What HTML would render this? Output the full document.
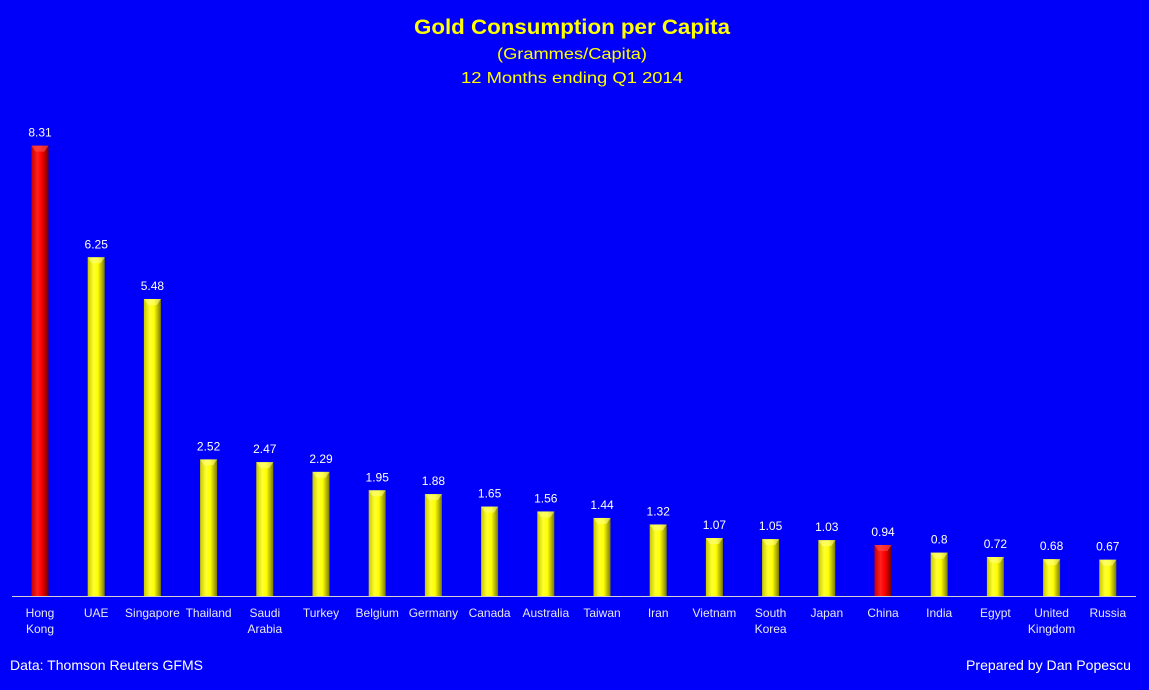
<!DOCTYPE html>
<html><head><meta charset="utf-8"><style>
html,body{margin:0;padding:0;background:#0000fa;}
svg{display:block;font-family:"Liberation Sans",sans-serif;}
</style></head><body>
<svg id="chart" width="1149" height="690" viewBox="0 0 1149 690">
<defs>
<linearGradient id="gy" x1="0" x2="1"><stop offset="0" stop-color="#c8c800"/><stop offset="0.35" stop-color="#ffff30"/><stop offset="0.6" stop-color="#ffff00"/><stop offset="1" stop-color="#7a7a00"/></linearGradient>
<linearGradient id="gr" x1="0" x2="1"><stop offset="0" stop-color="#c80000"/><stop offset="0.35" stop-color="#ff2020"/><stop offset="0.6" stop-color="#ff0000"/><stop offset="1" stop-color="#700000"/></linearGradient>
</defs>
<rect width="1149" height="690" fill="#0000fa"/>
<text x="572" y="34" text-anchor="middle" fill="#ffff00" font-size="21" font-weight="bold" textLength="316" lengthAdjust="spacingAndGlyphs">Gold Consumption per Capita</text>
<text x="572" y="59" text-anchor="middle" fill="#ffff00" font-size="16" textLength="150" lengthAdjust="spacingAndGlyphs">(Grammes/Capita)</text>
<text x="572" y="83" text-anchor="middle" fill="#ffff00" font-size="16" textLength="222" lengthAdjust="spacingAndGlyphs">12 Months ending Q1 2014</text>
<line x1="12" y1="596.5" x2="1136" y2="596.5" stroke="#d0d0d0" stroke-width="1"/>
<g id="bars"></g>
<text x="10" y="670" fill="#ffffff" font-size="14" textLength="193" lengthAdjust="spacingAndGlyphs">Data: Thomson Reuters GFMS</text>
<text x="966" y="670" fill="#ffffff" font-size="14" textLength="165" lengthAdjust="spacingAndGlyphs">Prepared by Dan Popescu</text>
</svg>
<script>
const categories = [["Hong","Kong"],["UAE"],["Singapore"],["Thailand"],["Saudi","Arabia"],["Turkey"],["Belgium"],["Germany"],["Canada"],["Australia"],["Taiwan"],["Iran"],["Vietnam"],["South","Korea"],["Japan"],["China"],["India"],["Egypt"],["United","Kingdom"],["Russia"]];
const values = [8.31,6.25,5.48,2.52,2.47,2.29,1.95,1.88,1.65,1.56,1.44,1.32,1.07,1.05,1.03,0.94,0.8,0.72,0.68,0.67];
const valueLabels = ["8.31","6.25","5.48","2.52","2.47","2.29","1.95","1.88","1.65","1.56","1.44","1.32","1.07","1.05","1.03","0.94","0.8","0.72","0.68","0.67"];
const highlighted = ["Hong Kong","China"];

const NS = "http://www.w3.org/2000/svg";
const baseY = 596, pxPerUnit = 54.2, x0 = 40, step = 56.2, bw = 17;
function xScale(i){ return x0 + i*step; }
function yScale(v){ return baseY - v*pxPerUnit; }
const g = document.getElementById("bars");
function mk(tag, attrs){ const e=document.createElementNS(NS,tag); for(const k in attrs) e.setAttribute(k,attrs[k]); return e; }
categories.forEach((c,i)=>{
  const name = c.join(" ");
  const red = highlighted.includes(name);
  const cx = xScale(i), top = yScale(values[i]);
  const r = mk("rect",{x:cx-bw/2,y:top,width:bw,height:baseY-top,fill:red?"url(#gr)":"url(#gy)"});
  
  
  g.appendChild(r);
  const cap = mk("polygon",{points:`${cx-bw/2},${top} ${cx+bw/2},${top} ${cx+bw/2-4},${top+6} ${cx-bw/2+4},${top+6}`,fill:red?"#ff5050":"#ffff80",opacity:"0.6"});
  
  
  g.appendChild(cap);
  const t = mk("text",{x:cx,y:top-9,"text-anchor":"middle",fill:"#ffffff","font-size":"12"});
  t.textContent = valueLabels[i];
  
  
  g.appendChild(t);
  c.forEach((line,j)=>{
    const l = mk("text",{x:cx,y:617+j*16,"text-anchor":"middle",fill:"#e8e8f0","font-size":"12"});
    l.textContent = line;
    
    
    g.appendChild(l);
  });
});
</script>
</body></html>
